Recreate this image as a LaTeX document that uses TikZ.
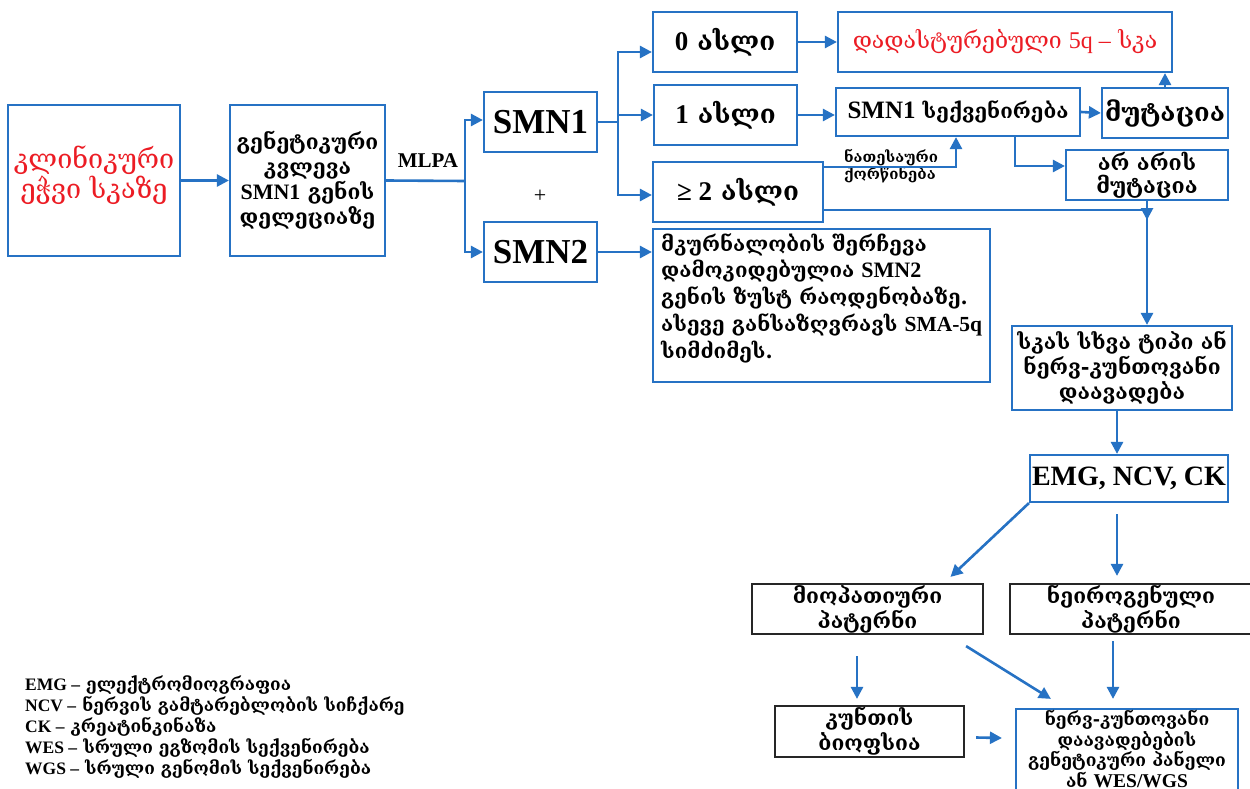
\documentclass[tikz,border=0pt]{standalone}
\usepackage{fontspec}
\setmainfont{DejaVu Serif}
\newfontfamily\tm{Liberation Serif}
\usetikzlibrary{arrows.meta}
\definecolor{bl}{RGB}{38,114,196}
\definecolor{rd}{RGB}{236,28,36}
\newcommand\lt[2]{{\tm\bfseries\fontsize{#1}{#1}\selectfont #2}}
\tikzset{
  box/.style={draw=bl, line width=2.2pt, fill=white, inner sep=0pt, align=center},
  kbox/.style={draw=black!85, line width=2.2pt, fill=white, inner sep=0pt, align=center},
  ln/.style={draw=bl, line width=2.6pt},
  arr/.style={draw=bl, line width=2.6pt, -{Triangle[length=12pt,width=12pt]}},
  geo/.style={font=\bfseries\fontsize{21}{25}\selectfont},
}
\begin{document}
\begin{tikzpicture}[x=1pt,y=-1pt]
\useasboundingbox (0,0) rectangle (1250,789);
\fill[white] (0,0) rectangle (1250,789);
% boxes
\node[box, minimum width=172pt, minimum height=151pt] (clin) at (94,180.5) {};
\node[text=rd, align=center, font=\fontsize{27}{30}\selectfont] (clintxt) at (94,175) {კლინიკური\\ეჭვი სკაზე};
\node[box, geo, minimum width=155pt, minimum height=151pt] (gen) at (307.5,180.5) {გენეტიკური\\კვლევა\\\lt{22}{SMN1} გენის\\დელეციაზე};
\node[font=\tm\bfseries\fontsize{21}{22}\selectfont] (mlpa) at (428,161) {MLPA};
\node[box, minimum width=113pt, minimum height=60pt, font=\tm\bfseries\fontsize{35}{36}\selectfont] (smn1) at (540.5,122) {SMN1};
\node[box, minimum width=113pt, minimum height=60pt, font=\tm\bfseries\fontsize{35}{36}\selectfont] (smn2) at (540.5,252) {SMN2};
\node[font=\tm\fontsize{22}{22}\selectfont] (plus) at (540,196) {+};
\node[box, minimum width=144pt, minimum height=60pt, font=\bfseries\fontsize{26}{28}\selectfont] (c0) at (725,42) {\lt{27}{0} ასლი};
\node[box, minimum width=143pt, minimum height=60pt, font=\bfseries\fontsize{26}{28}\selectfont] (c1) at (725.5,115) {\lt{27}{1} ასლი};
\node[box, minimum width=170pt, minimum height=60pt, font=\bfseries\fontsize{26}{28}\selectfont] (c2) at (738,192) {\lt{27}{≥ 2} ასლი};
\node[box, minimum width=334pt, minimum height=60pt, text=rd, font=\fontsize{23}{24}\selectfont] (conf) at (1005,42) {დადასტურებული {\tm\fontsize{24}{24}\selectfont 5q –} სკა};
\node[box, minimum width=244pt, minimum height=48pt, font=\bfseries\fontsize{20.5}{22}\selectfont] (seq) at (958,112) {\lt{25}{SMN1} სექვენირება};
\node[box, minimum width=126pt, minimum height=50pt, font=\bfseries\fontsize{25.5}{26}\selectfont] (mut) at (1165,113) {მუტაცია};
\node[box, minimum width=162pt, minimum height=50pt, font=\bfseries\fontsize{21.5}{23}\selectfont] (nomut) at (1147,175) {არ არის\\მუტაცია};
\node[font=\bfseries\fontsize{15}{17}\selectfont, align=left] (rel) at (891,166) {ნათესაური\\ქორწინება};
\node[box, minimum width=337pt, minimum height=153pt] (treat) at (821.5,305.5) {};
\node[anchor=north west, align=left, inner sep=0pt, font=\bfseries\fontsize{20.5}{26.8}\selectfont] (treattxt) at (661,233) {მკურნალობის შერჩევა\\დამოკიდებულია \lt{22}{SMN2}\\გენის ზუსტ რაოდენობაზე.\\ასევე განსაზღვრავს \lt{21.5}{SMA-5q}\\სიმძიმეს.};
\node[box, geo, minimum width=220pt, minimum height=84pt] (other) at (1122,368) {სკას სხვა ტიპი ან\\ნერვ-კუნთოვანი\\დაავადება};
\node[box, minimum width=198pt, minimum height=47pt, font=\tm\bfseries\fontsize{28}{29}\selectfont] (emg) at (1129,478.5) {EMG, NCV, CK};
\node[kbox, geo, minimum width=231pt, minimum height=50pt] (myo) at (867.5,609) {მიოპათიური\\პატერნი};
\node[kbox, geo, minimum width=242pt, minimum height=50pt] (neuro) at (1131,609) {ნეიროგენული\\პატერნი};
\node[kbox, geo, minimum width=189pt, minimum height=51pt] (biop) at (869.5,731.5) {კუნთის\\ბიოფსია};
\node[box, minimum width=222pt, minimum height=92pt] (panel) at (1127,755) {};
\node[anchor=north, align=center, inner sep=0pt, font=\bfseries\fontsize{17.5}{20.5}\selectfont] (paneltxt) at (1127,710) {ნერვ-კუნთოვანი\\დაავადებების\\გენეტიკური პანელი\\ან \lt{19.5}{WES/WGS}};
\node[anchor=north west, align=left, inner sep=0pt, font=\bfseries\fontsize{17.3}{21}\selectfont] (legend) at (25,676) {\lt{17.5}{EMG –} ელექტრომიოგრაფია\\\lt{17.5}{NCV –} ნერვის გამტარებლობის სიჩქარე\\\lt{17.5}{CK –} კრეატინკინაზა\\\lt{17.5}{WES –} სრული ეგზომის სექვენირება\\\lt{17.5}{WGS –} სრული გენომის სექვენირება};
% connectors
\coordinate (jm) at (465,181);
\coordinate (js) at (618,122);
\draw[arr] (clin.east) -- (gen.west);
\draw[ln] (gen.east) -- (jm);
\draw[arr] (jm) |- ([yshift=2pt]smn1.west);
\draw[arr] (jm) |- (smn2.west);
\draw[ln] (smn1.east) -- (js);
\draw[arr] (js) |- ([yshift=-10pt]c0.west);
\draw[arr] (js) |- (c1.west);
\draw[arr] (js) |- ([yshift=-3pt]c2.west);
\draw[arr] (c0.east) -- (conf.west);
\draw[arr] (c1.east) -- (c1.east -| seq.west);
\draw[arr] (seq.east) -- (mut.west);
\draw[arr] (mut.north) -- (mut.north |- conf.south);
\draw[arr] ([xshift=57pt]seq.south) |- ([yshift=9pt]nomut.west);
\draw[arr] ([yshift=25pt]c2.east) -| ([xshift=-2pt]seq.south);
\coordinate (jn) at (1147,210);
\draw[arr] ([yshift=-18pt]c2.east) -| ([yshift=-10pt]jn);
\draw[arr] (nomut.south) -- (nomut.south |- other.north);
\draw[arr] (smn2.east) -- (smn2.east -| treat.west);
\draw[arr] ([xshift=-5pt]other.south) -- ([xshift=-5pt]other.south |- emg.north);
\draw[arr] (emg.south west) -- ([xshift=83pt,yshift=6pt]myo.north);
\draw[arr] ([xshift=-12pt,yshift=-11pt]emg.south) -- ([xshift=-14pt,yshift=7pt]neuro.north);
\draw[arr] ([xshift=-10.5pt,yshift=-21pt]myo.south) -- ([xshift=-12.5pt,yshift=6pt]biop.north);
\draw[arr] ([xshift=-18pt,yshift=-11pt]myo.south east) -- ([xshift=36pt,yshift=9pt]panel.north west);
\draw[arr] ([xshift=-18pt,yshift=-6pt]neuro.south) -- ([xshift=-14pt,yshift=9pt]panel.north);
\draw[arr] ([xshift=11pt,yshift=-6pt]biop.east) -- ([xshift=-13pt,yshift=17pt]panel.west);
\end{tikzpicture}
\end{document}
